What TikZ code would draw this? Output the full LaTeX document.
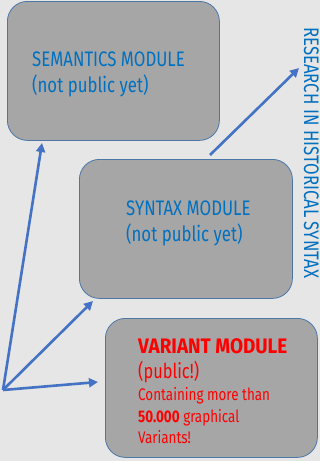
\documentclass[tikz,border=0pt]{standalone}
\usepackage{fontspec}
\setmainfont{Fira Sans}[FakeStretch=0.8]
\newfontfamily\wideb{Fira Sans}[FakeStretch=0.9]
\definecolor{bgc}{HTML}{E6E6E6}
\definecolor{boxc}{HTML}{A6A6A6}
\definecolor{edgec}{HTML}{4A76A8}
\definecolor{txtblue}{HTML}{0070C0}
\definecolor{arrc}{HTML}{4472C4}
\usetikzlibrary{arrows.meta}
\begin{document}
\begin{tikzpicture}[x=1pt,y=-1pt,
  modbox/.style={draw=edgec,fill=boxc,line width=0.8pt,rounded corners=20pt},
  bluetxt/.style={anchor=base west,inner sep=0pt,text=txtblue,font=\fontsize{21}{24}\selectfont},
  redbig/.style={anchor=base west,inner sep=0pt,text=red,font=\fontsize{20.5}{24}\selectfont},
  redsmall/.style={anchor=base west,inner sep=0pt,text=red,font=\fontsize{16.8}{19}\selectfont},
  arr/.style={draw=arrc,line width=2.6pt,-{Triangle[length=9pt,width=9pt]}}]
\fill[bgc] (0,0) rectangle (320,461);
\useasboundingbox (0,0) rectangle (320,461);
% boxes
\node[modbox,minimum width=212pt,minimum height=139pt,anchor=north west] (sem) at (7,1) {};
\node[modbox,minimum width=213pt,minimum height=139pt,anchor=north west] (syn) at (79,159) {};
\node[modbox,minimum width=212pt,minimum height=139pt,anchor=north west] (var) at (105,318) {};
% texts
\node[bluetxt] (sem1) at (32,66) {SEMANTICS MODULE};
\node[bluetxt] (sem2) at (32,92) {(not public yet)};
\node[bluetxt] (syn1) at (126,215) {SYNTAX MODULE};
\node[bluetxt] (syn2) at (126,241) {(not public yet)};
\node[redbig,font=\fontsize{21}{24}\wideb\bfseries] (var1) at (138,353) {VARIANT MODULE};
\node[redbig] (var2) at (138,378) {(public!)};
\node[redsmall] (var3) at (138,400) {Containing more than};
\node[redsmall] (var4) at (138,422) {\textbf{50.000} graphical};
\node[redsmall] (var5) at (138,443) {Variants!};
\node[bluetxt,rotate=-90] (res) at (304,27) {RESEARCH IN HISTORICAL SYNTAX};
% arrows
\coordinate (o) at (3,390);
\coordinate (t1) at (42,143);
\coordinate (t2) at (93,301);
\coordinate (t3) at (98,382);
\coordinate (s4) at (210,155);
\coordinate (t4) at (299,68);
\draw[arr] (o) -- (t1);
\draw[arr] (o) -- (t2);
\draw[arr] (o) -- (t3);
\draw[arr] (s4) -- (t4);
\end{tikzpicture}
\end{document}
